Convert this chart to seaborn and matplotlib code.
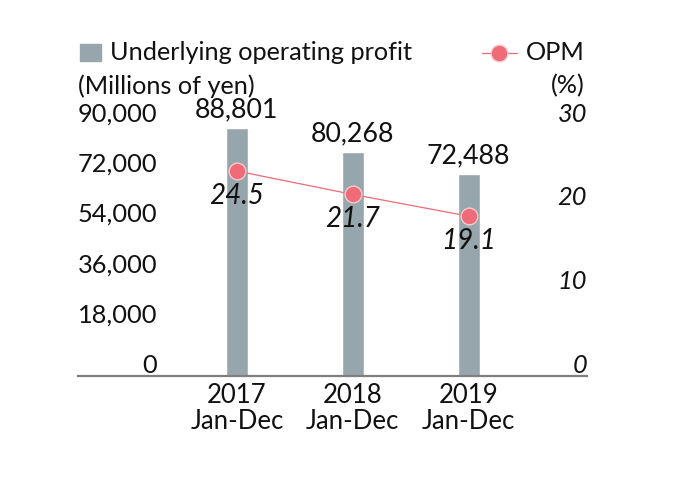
import numpy as np
import pandas as pd
import matplotlib
matplotlib.use("Agg")
import matplotlib.pyplot as plt
import matplotlib.transforms as mtransforms
import seaborn as sns

# data
years = ["2017\nJan-Dec", "2018\nJan-Dec", "2019\nJan-Dec"]
profit = [88801, 80268, 72488]
opm = [24.5, 21.7, 19.1]
left_ticks = [0, 18000, 36000, 54000, 72000, 90000]
right_ticks = [0, 10, 20, 30]

bar_color = "#97a6ac"
opm_color = "#ee6b77"
txt = "#111111"

sns.set_theme(style="white")
plt.rcParams["font.family"] = ["Lato", "DejaVu Sans"]

df = pd.DataFrame({"year": years, "profit": profit, "opm": opm})

fig = plt.figure(figsize=(6.78, 4.83), dpi=100)
ax = fig.add_axes([78 / 678, 1 - 376 / 483, (587 - 78) / 678, (376 - 125) / 483])

sns.barplot(data=df, x="year", y="profit", color=bar_color, width=0.19,
            saturation=1, ax=ax)
ax.set_xlim(-1.37, 3.02)
ax.set_ylim(0, 90000)
ax.set_xlabel("")
ax.set_ylabel("")
for s in ["top", "left", "right"]:
    ax.spines[s].set_visible(False)
ax.spines["bottom"].set_color("#7f7f7f")
ax.spines["bottom"].set_linewidth(1.6)
ax.tick_params(axis="x", length=0, labelsize=18.5, pad=5, colors=txt)
for lab in ax.get_xticklabels():
    lab.set_linespacing(1.05)
ax.set_yticks([])

# left scale labels (drawn slightly above their gridline position)
off = mtransforms.offset_copy(ax.get_yaxis_transform(), fig=fig, x=0, y=7.8, units="points")
for t in left_ticks:
    ax.text((157 - 78) / (587 - 78), t, f"{t:,}", transform=off, ha="right", va="center",
            fontsize=18.3, color=txt)

for i, v in enumerate(profit):
    ax.annotate(f"{v:,}", (i, v), xytext=(0, 13), textcoords="offset points",
                ha="center", va="center", fontsize=19.3, color=txt)

ax2 = ax.twinx()
sns.lineplot(x=np.arange(len(opm)), y=opm, ax=ax2, color=opm_color, linewidth=0.9,
             marker="o", markersize=12, markerfacecolor=opm_color,
             markeredgecolor="#f7c9cd", markeredgewidth=1.0)
ax2.set_ylim(0, 30)
ax2.set_xlim(-1.37, 3.02)
ax2.set_yticks([])
for s in ["top", "left", "right", "bottom"]:
    ax2.spines[s].set_visible(False)
off2 = mtransforms.offset_copy(ax2.get_yaxis_transform(), fig=fig, x=0, y=7.8, units="points")
for t in right_ticks:
    ax2.text(1.0, t, f"{t}", transform=off2, ha="right", va="center",
             fontsize=18.3, style="italic", color=txt)
for i, v in enumerate(opm):
    ax2.annotate(f"{v}", (i, v), xytext=(0, -18), textcoords="offset points",
                 ha="center", va="center", fontsize=20, style="italic", color=txt)

# legend-like header
fig.patches.append(plt.Rectangle((80 / 678, 1 - 61 / 483), 21 / 678, 17 / 483,
                                 transform=fig.transFigure, color=bar_color))
fig.text(110 / 678, 1 - 53 / 483, "Underlying operating profit", ha="left", va="center",
         fontsize=18.2, color=txt)
fig.text(78 / 678, 1 - 86 / 483, "(Millions of yen)", ha="left", va="center",
         fontsize=18.2, color=txt)
fig.add_artist(plt.Line2D([482 / 678, 517 / 678], [1 - 53 / 483, 1 - 53 / 483],
                          transform=fig.transFigure, color=opm_color, linewidth=0.9))
fig.add_artist(plt.Line2D([499 / 678], [1 - 53 / 483], transform=fig.transFigure,
                          marker="o", markersize=12, color=opm_color,
                          markeredgecolor="#f7c9cd", markeredgewidth=1.0))
fig.text(585 / 678, 1 - 53 / 483, "OPM", ha="right", va="center", fontsize=18.2, color=txt)
fig.text(585 / 678, 1 - 86 / 483, "(%)", ha="right", va="center", fontsize=18.2, color=txt)

fig.savefig("out.png", dpi=100)
